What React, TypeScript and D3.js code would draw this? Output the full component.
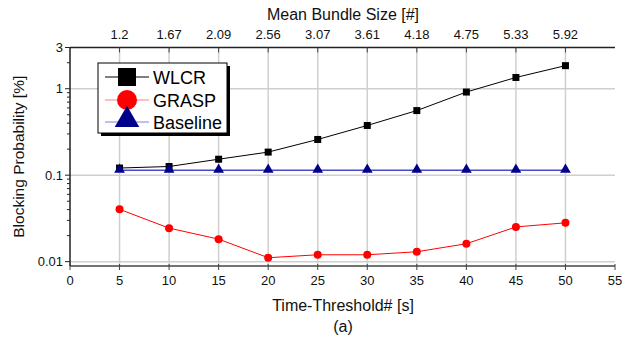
import * as d3 from 'd3';

const thresholds = [5, 10, 15, 20, 25, 30, 35, 40, 45, 50];
const bundleSizes = ['1.2', '1.67', '2.09', '2.56', '3.07', '3.61', '4.18', '4.75', '5.33', '5.92'];
const wlcr = [0.121, 0.126, 0.153, 0.185, 0.259, 0.376, 0.559, 0.916, 1.35, 1.85];
const grasp = [0.0403, 0.0244, 0.0182, 0.0111, 0.012, 0.012, 0.013, 0.0161, 0.0252, 0.0281];
const baseline = [0.114, 0.114, 0.114, 0.114, 0.114, 0.114, 0.114, 0.114, 0.114, 0.114];
const xTicks = [0, 5, 10, 15, 20, 25, 30, 35, 40, 45, 50, 55];
const yTicks = [0.01, 0.1, 1, 3];

const W = 623;
const H = 338;
const M = { left: 70, right: 8, top: 47.5, bottom: 72 };
const FONT = 'Liberation Sans, Arial, sans-serif';

export default function App() {
  const x = d3.scaleLinear().domain([0, 55]).range([M.left, W - M.right]);
  const y = d3.scaleLog().domain([0.0089, 3]).range([H - M.bottom, M.top]);

  // minor log ticks, 2..9 per decade
  const minor: number[] = [];
  [0.01, 0.1, 1].forEach(d => {
    for (let k = 2; k <= 9; k++) {
      const v = d * k;
      if (v < 3) minor.push(v);
    }
  });

  const line = d3.line<number>().x((_, i) => x(thresholds[i])).y(d => y(d));
  const [x0, x1] = x.range();
  const [yb, yt] = y.range();
  const tri = d3.symbol(d3.symbolTriangle, 50)()!;
  const triBig = d3.symbol(d3.symbolTriangle, 260)()!;

  return (
    <svg width={W} height={H} style={{ position: 'absolute', left: 0, top: 0, background: '#fff' }} fontFamily={FONT}>
      {/* grid */}
      {thresholds.map(t => (
        <line key={'gx' + t} x1={x(t)} x2={x(t)} y1={yt} y2={yb} stroke="#cfcfcf" strokeWidth={1.5} />
      ))}
      {[0.01, 0.1, 1].map(v => (
        <line key={'gy' + v} x1={x0} x2={x1} y1={y(v)} y2={y(v)} stroke="#cfcfcf" strokeWidth={1.5} />
      ))}

      {/* axes */}
      <line x1={x0} x2={x1} y1={yt} y2={yt} stroke="#222" strokeWidth={1.5} />
      <line x1={x0} x2={x1} y1={yb} y2={yb} stroke="#444" strokeWidth={1.5} />
      <line x1={x0} x2={x0} y1={yt} y2={yb} stroke="#222" strokeWidth={1.5} />

      {/* bottom ticks */}
      {xTicks.map(t => (
        <g key={'xt' + t}>
          <line x1={x(t)} x2={x(t)} y1={yb - 2} y2={yb + 4} stroke="#444" />
          <text x={x(t)} y={yb + 19} fontSize={13} textAnchor="middle" fill="#111">{t}</text>
        </g>
      ))}
      {/* top ticks */}
      {thresholds.map((t, i) => (
        <g key={'tt' + t}>
          <line x1={x(t)} x2={x(t)} y1={yt} y2={yt + 5} stroke="#444" />
          <text x={x(t)} y={yt - 9} fontSize={13} textAnchor="middle" fill="#111">{bundleSizes[i]}</text>
        </g>
      ))}
      {/* left ticks */}
      {yTicks.map(v => (
        <g key={'yt' + v}>
          <line x1={x0 - 5} x2={x0} y1={y(v)} y2={y(v)} stroke="#222" />
          <text x={x0 - 7} y={y(v) + 4.5} fontSize={13} textAnchor="end" fill="#111">{v}</text>
        </g>
      ))}
      {minor.map(v => (
        <line key={'ym' + v} x1={x0 - 3} x2={x0} y1={y(v)} y2={y(v)} stroke="#222" />
      ))}

      {/* series */}
      <path d={line(baseline)!} fill="none" stroke="#4a4ac8" strokeWidth={1.3} />
      <path d={line(wlcr)!} fill="none" stroke="#000" strokeWidth={1} />
      <path d={line(grasp)!} fill="none" stroke="#ff0000" strokeWidth={1} />
      {wlcr.map((v, i) => (
        <rect key={'w' + i} x={x(thresholds[i]) - 3.5} y={y(v) - 3.5} width={7} height={7} fill="#000" />
      ))}
      {grasp.map((v, i) => (
        <circle key={'g' + i} cx={x(thresholds[i])} cy={y(v)} r={4} fill="#ff0000" />
      ))}
      {baseline.map((v, i) => (
        <path key={'b' + i} d={tri} transform={`translate(${x(thresholds[i])},${y(v) - 0.5})`} fill="#00008b" />
      ))}

      {/* legend */}
      <rect x={101} y={66} width={129} height={70} fill="#000" />
      <rect x={98} y={63} width={129} height={70} fill="#fff" stroke="#000" strokeWidth={1} />
      <line x1={105} x2={149} y1={77} y2={77} stroke="#000" />
      <rect x={118} y={68} width={18} height={18} fill="#000" />
      <text x={153} y={83.5} fontSize={18} fill="#000">WLCR</text>
      <line x1={105} x2={149} y1={100} y2={100} stroke="#ff8080" />
      <circle cx={127} cy={100} r={10} fill="#ff0000" />
      <text x={153} y={106.5} fontSize={18} fill="#000">GRASP</text>
      <line x1={105} x2={149} y1={122} y2={122} stroke="#8080d8" />
      <path d={triBig} transform="translate(127,120)" fill="#00008b" />
      <text x={153} y={128.5} fontSize={18} fill="#000">Baseline</text>

      {/* titles */}
      <text x={343} y={20} fontSize={16} textAnchor="middle" fill="#111">Mean Bundle Size [#]</text>
      <text x={343} y={311} fontSize={16} textAnchor="middle" fill="#111">Time-Threshold# [s]</text>
      <text x={343} y={332} fontSize={16} textAnchor="middle" fill="#111">(a)</text>
      <text transform={`translate(24,${(yt + yb) / 2}) rotate(-90)`} fontSize={15.5} textAnchor="middle" fill="#111">
        Blocking Probability [%]
      </text>
    </svg>
  );
}
